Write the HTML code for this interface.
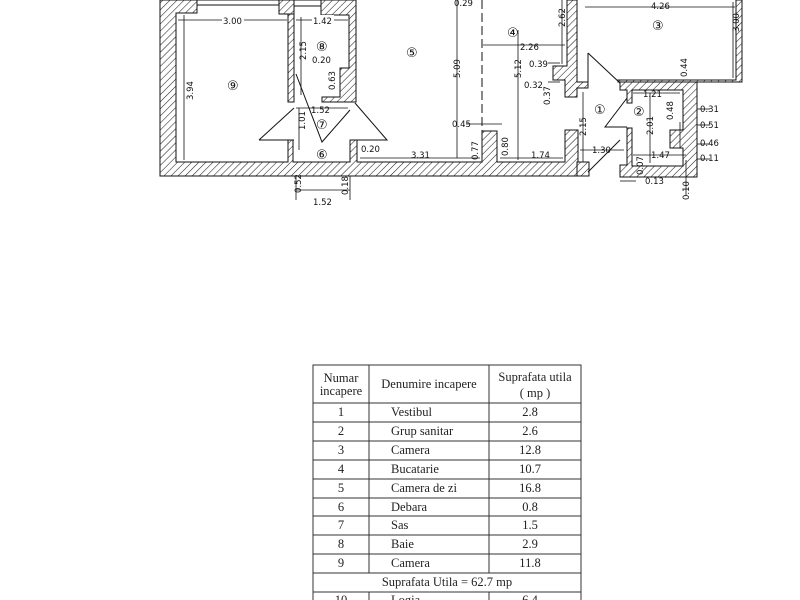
<!DOCTYPE html>
<html><head><meta charset="utf-8"><style>
html,body{margin:0;padding:0;background:#fff;}
svg{display:block}
text{font-family:"DejaVu Sans","Liberation Sans",sans-serif;font-size:8.5px;fill:#111}
text.c{font-size:13px}
text.t{font-family:"Liberation Serif",serif;font-size:12.5px;fill:#222}
</style></head><body>
<svg width="800" height="600" viewBox="0 0 800 600" xmlns="http://www.w3.org/2000/svg">
<defs>
<pattern id="h" patternUnits="userSpaceOnUse" width="5" height="5" patternTransform="rotate(45)">
<rect width="5" height="5" fill="#fff"/><line x1="0" y1="0" x2="0" y2="5" stroke="#222" stroke-width="1.1"/>
</pattern>
</defs>
<g fill="url(#h)" stroke="#111" stroke-width="1">
<path d="M160 0 H197 V13 H176 V162 H288 V140 H293 V162 H350 V140 H357 V162 H482 V131 H497 V162 H565 V130 H578 V172 H588 V176 H160 Z"/>
<rect x="288" y="0" width="6" height="102"/>
<rect x="279" y="0" width="15" height="14"/>
<path d="M321 0 H356 V102 H322 V97 H340 V68 H349 V15 H321 Z"/>
<path d="M567 0 H577 V82 H588 V88 H577 V97 H565 V80 H553 V66 H567 Z"/>
<path d="M618 82 H742 V0 H736 V80 H618 Z"/>
<path d="M620 82 H697 V177 H620 V165 H627 V128 H632 V166 H683 V148 H670 V130 H683 V90 H632 V103 H627 V90 H620 Z"/>
<rect x="577" y="162" width="12" height="14"/>
</g>
<g fill="#fff" stroke="#111" stroke-width="1">
<rect x="197" y="0" width="82" height="5"/>
<rect x="294" y="0" width="27" height="6"/>
</g>
<g fill="none" stroke="#111" stroke-width="1">
<path d="M259 140 L294 108 M259 140 H294"/>
<path d="M296 74 L322 142 L350 110"/>
<path d="M355 103 L387 140 H355"/>
<path d="M588 53 V88 M588 53 L620 83"/>
<path d="M627 98 L605 127 H627"/>
<path d="M588 172 L620 140"/>
<path d="M482 0 V131" stroke-dasharray="9 4"/>
</g>
<g stroke="#111" stroke-width="0.8" fill="none">
<line x1="178" y1="20" x2="287" y2="20"/><line x1="296" y1="20" x2="348" y2="20"/>
<line x1="184" y1="15" x2="184" y2="160"/><line x1="301" y1="17" x2="301" y2="95"/>
<line x1="296" y1="108" x2="348" y2="108"/><line x1="299" y1="108" x2="299" y2="150"/>
<line x1="296" y1="190" x2="350" y2="190"/><line x1="296" y1="176" x2="296" y2="200"/><line x1="350" y1="176" x2="350" y2="200"/>
<line x1="360" y1="158" x2="480" y2="158"/><line x1="457" y1="0" x2="457" y2="158"/>
<line x1="518" y1="30" x2="518" y2="160"/><line x1="483" y1="45" x2="565" y2="45"/>
<line x1="500" y1="158" x2="563" y2="158"/><line x1="562" y1="0" x2="562" y2="64"/>
<line x1="583" y1="92" x2="583" y2="162"/><line x1="580" y1="150" x2="624" y2="150"/>
<line x1="585" y1="7" x2="735" y2="7"/><line x1="733" y1="2" x2="733" y2="78"/>
<line x1="650" y1="93" x2="650" y2="163"/><line x1="633" y1="93" x2="680" y2="93"/>
<line x1="633" y1="155" x2="686" y2="155"/><line x1="680" y1="122" x2="680" y2="148"/>
<line x1="697" y1="109" x2="710" y2="109"/><line x1="697" y1="125" x2="710" y2="125"/>
<line x1="697" y1="144" x2="710" y2="144"/><line x1="697" y1="159" x2="710" y2="159"/>
<line x1="620" y1="181" x2="636" y2="181"/><line x1="686" y1="160" x2="686" y2="195"/>
<line x1="466" y1="124" x2="502" y2="124"/><line x1="548" y1="63" x2="560" y2="63"/><line x1="548" y1="82" x2="560" y2="82"/>
</g>
<g fill="#fff">
<rect x="222" y="15" width="22" height="10"/><rect x="312" y="15" width="22" height="10"/>
</g>
<text x="223" y="24">3.00</text>
<text x="313" y="24">1.42</text>
<text class="c" x="227" y="90">⑨</text>
<text class="c" x="316" y="51">⑧</text>
<text class="c" x="406" y="57">⑤</text>
<text class="c" x="507" y="37">④</text>
<text class="c" x="652" y="30">③</text>
<text class="c" x="594" y="114">①</text>
<text class="c" x="633" y="116">②</text>
<text class="c" x="316" y="129">⑦</text>
<text class="c" x="316" y="159">⑥</text>
<text x="311" y="113">1.52</text>
<text x="312" y="63">0.20</text>
<text x="361" y="152">0.20</text>
<text x="411" y="158">3.31</text>
<text x="531" y="158">1.74</text>
<text x="452" y="127">0.45</text>
<text x="520" y="50">2.26</text>
<text x="529" y="67">0.39</text>
<text x="524" y="88">0.32</text>
<text x="592" y="153">1.30</text>
<text x="651" y="9">4.26</text>
<text x="643" y="97">1.21</text>
<text x="651" y="158">1.47</text>
<text x="700" y="112">0.31</text>
<text x="700" y="128">0.51</text>
<text x="700" y="146">0.46</text>
<text x="700" y="161">0.11</text>
<text x="645" y="184">0.13</text>
<text x="313" y="205">1.52</text>
<text x="454" y="6">0.29</text>
<g>
<text transform="translate(193,100) rotate(-90)">3.94</text>
<text transform="translate(306,60) rotate(-90)">2.15</text>
<text transform="translate(335,90) rotate(-90)">0.63</text>
<text transform="translate(305,130) rotate(-90)">1.01</text>
<text transform="translate(301,193) rotate(-90)">0.52</text>
<text transform="translate(348,195) rotate(-90)">0.18</text>
<text transform="translate(460,78) rotate(-90)">5.09</text>
<text transform="translate(521,78) rotate(-90)">5.12</text>
<text transform="translate(565,27) rotate(-90)">2.62</text>
<text transform="translate(550,105) rotate(-90)">0.37</text>
<text transform="translate(478,160) rotate(-90)">0.77</text>
<text transform="translate(508,156) rotate(-90)">0.80</text>
<text transform="translate(586,136) rotate(-90)">2.15</text>
<text transform="translate(739,32) rotate(-90)">3.00</text>
<text transform="translate(687,77) rotate(-90)">0.44</text>
<text transform="translate(653,135) rotate(-90)">2.01</text>
<text transform="translate(673,120) rotate(-90)">0.48</text>
<text transform="translate(643,175) rotate(-90)">0.07</text>
<text transform="translate(689,200) rotate(-90)">0.10</text>
</g>
<g stroke="#333" stroke-width="1" fill="none">
<rect x="313" y="365" width="268" height="240"/>
<line x1="369" y1="365" x2="369" y2="573"/><line x1="489" y1="365" x2="489" y2="573"/>
<line x1="369" y1="592" x2="369" y2="600"/><line x1="489" y1="592" x2="489" y2="600"/>
<line x1="313" y1="403" x2="581" y2="403"/>
<line x1="313" y1="422" x2="581" y2="422"/><line x1="313" y1="441" x2="581" y2="441"/>
<line x1="313" y1="460" x2="581" y2="460"/><line x1="313" y1="479" x2="581" y2="479"/>
<line x1="313" y1="498" x2="581" y2="498"/><line x1="313" y1="516" x2="581" y2="516"/>
<line x1="313" y1="535" x2="581" y2="535"/><line x1="313" y1="554" x2="581" y2="554"/>
<line x1="313" y1="573" x2="581" y2="573"/><line x1="313" y1="592" x2="581" y2="592"/>
</g>
<text class="t" x="341" y="382" text-anchor="middle">Numar</text>
<text class="t" x="341" y="395" text-anchor="middle">incapere</text>
<text class="t" x="429" y="388" text-anchor="middle">Denumire incapere</text>
<text class="t" x="535" y="381" text-anchor="middle">Suprafata utila</text>
<text class="t" x="535" y="397" text-anchor="middle">( mp )</text>
<text class="t" x="341" y="416" text-anchor="middle">1</text><text class="t" x="391" y="416">Vestibul</text><text class="t" x="530" y="416" text-anchor="middle">2.8</text>
<text class="t" x="341" y="435" text-anchor="middle">2</text><text class="t" x="391" y="435">Grup sanitar</text><text class="t" x="530" y="435" text-anchor="middle">2.6</text>
<text class="t" x="341" y="454" text-anchor="middle">3</text><text class="t" x="391" y="454">Camera</text><text class="t" x="530" y="454" text-anchor="middle">12.8</text>
<text class="t" x="341" y="473" text-anchor="middle">4</text><text class="t" x="391" y="473">Bucatarie</text><text class="t" x="530" y="473" text-anchor="middle">10.7</text>
<text class="t" x="341" y="492" text-anchor="middle">5</text><text class="t" x="391" y="492">Camera de zi</text><text class="t" x="530" y="492" text-anchor="middle">16.8</text>
<text class="t" x="341" y="511" text-anchor="middle">6</text><text class="t" x="391" y="511">Debara</text><text class="t" x="530" y="511" text-anchor="middle">0.8</text>
<text class="t" x="341" y="529" text-anchor="middle">7</text><text class="t" x="391" y="529">Sas</text><text class="t" x="530" y="529" text-anchor="middle">1.5</text>
<text class="t" x="341" y="548" text-anchor="middle">8</text><text class="t" x="391" y="548">Baie</text><text class="t" x="530" y="548" text-anchor="middle">2.9</text>
<text class="t" x="341" y="567" text-anchor="middle">9</text><text class="t" x="391" y="567">Camera</text><text class="t" x="530" y="567" text-anchor="middle">11.8</text>
<text class="t" x="447" y="586" text-anchor="middle">Suprafata Utila = 62.7 mp</text>
<text class="t" x="341" y="604" text-anchor="middle">10</text><text class="t" x="391" y="604">Logia</text><text class="t" x="530" y="604" text-anchor="middle">6.4</text>
</svg>
</body></html>
